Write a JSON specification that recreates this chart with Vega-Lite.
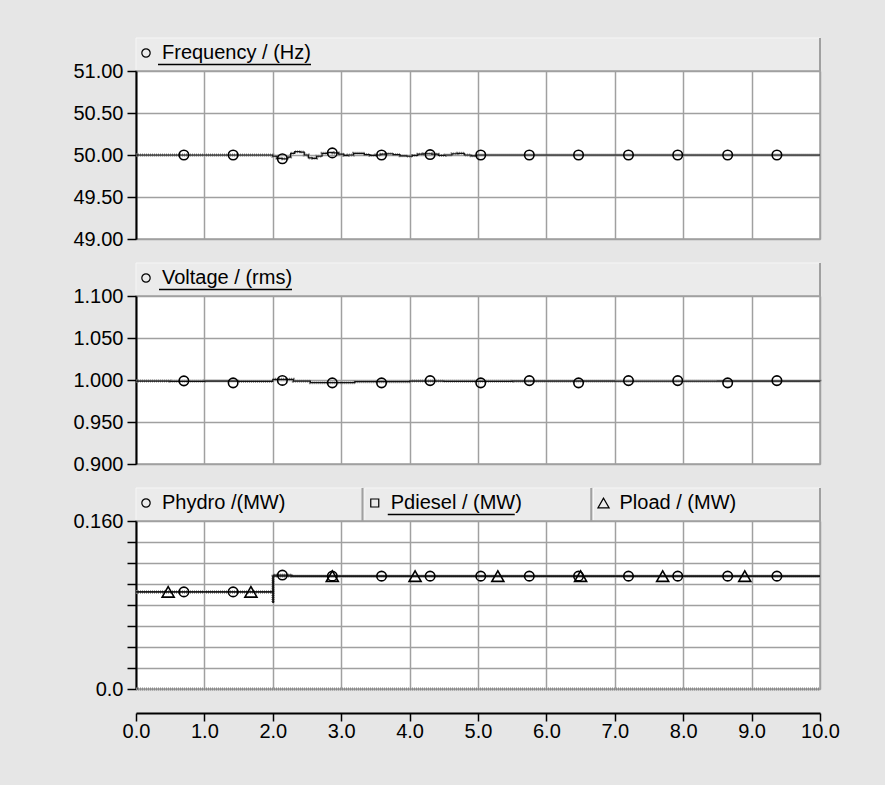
{
  "$schema": "https://vega.github.io/schema/vega-lite/v6.json",
  "background": "#e6e6e6",
  "padding": {"left": 72, "top": 37, "right": 64, "bottom": 45},
  "spacing": 12,
  "resolve": {"scale": {"x": "independent", "y": "independent", "shape": "independent", "size": "independent"}},
  "config": {
    "font": "Liberation Sans",
    "view": {"stroke": "#a0a0a0", "strokeWidth": 1.5, "fill": "white"},
    "axis": {
      "labelFont": "Liberation Sans", "labelFontSize": 20, "labelColor": "black",
      "domainColor": "black", "domainWidth": 2, "tickColor": "black", "tickWidth": 1.5,
      "tickSize": 9, "labelPadding": 4, "gridColor": "#a0a0a0", "gridWidth": 1.5,
      "gridOpacity": 1, "title": null, "labelFlush": false
    }
  },
  "datasets": {
    "freq": [
      {"t": 0, "v": 50.0}, {"t": 1.98, "v": 50.0}, {"t": 2.0, "v": 49.985}, {"t": 2.06, "v": 49.96},
      {"t": 2.14, "v": 49.955}, {"t": 2.22, "v": 49.975}, {"t": 2.26, "v": 50.02}, {"t": 2.32, "v": 50.04},
      {"t": 2.4, "v": 50.035}, {"t": 2.46, "v": 50.0}, {"t": 2.52, "v": 49.965}, {"t": 2.58, "v": 49.96},
      {"t": 2.64, "v": 49.985}, {"t": 2.72, "v": 50.02}, {"t": 2.8, "v": 50.03}, {"t": 2.88, "v": 50.025},
      {"t": 2.96, "v": 50.01}, {"t": 3.04, "v": 49.995}, {"t": 3.1, "v": 50.0}, {"t": 3.18, "v": 50.02},
      {"t": 3.26, "v": 50.02}, {"t": 3.34, "v": 50.005}, {"t": 3.42, "v": 49.995}, {"t": 3.5, "v": 50.0},
      {"t": 3.58, "v": 50.01}, {"t": 3.66, "v": 50.015}, {"t": 3.76, "v": 50.005}, {"t": 3.86, "v": 49.99},
      {"t": 3.96, "v": 49.985}, {"t": 4.04, "v": 49.995}, {"t": 4.12, "v": 50.01}, {"t": 4.2, "v": 50.015},
      {"t": 4.32, "v": 50.01}, {"t": 4.42, "v": 49.995}, {"t": 4.52, "v": 50.0}, {"t": 4.62, "v": 50.015},
      {"t": 4.7, "v": 50.02}, {"t": 4.8, "v": 50.0}, {"t": 4.9, "v": 49.99}, {"t": 4.98, "v": 50.0},
      {"t": 10, "v": 50.0}
    ],
    "freqMarks": [
      {"t": 0.7, "v": 50.0}, {"t": 1.42, "v": 50.0}, {"t": 2.14, "v": 49.955}, {"t": 2.87, "v": 50.025},
      {"t": 3.59, "v": 50.0}, {"t": 4.3, "v": 50.005}, {"t": 5.04, "v": 50.0}, {"t": 5.75, "v": 50.0},
      {"t": 6.47, "v": 50.0}, {"t": 7.2, "v": 50.0}, {"t": 7.92, "v": 50.0}, {"t": 8.65, "v": 50.0},
      {"t": 9.37, "v": 50.0}
    ],
    "volt": [
      {"t": 0, "v": 0.9987}, {"t": 0.5, "v": 0.9984}, {"t": 1.0, "v": 0.9987}, {"t": 1.5, "v": 0.9983},
      {"t": 2.0, "v": 1.0008}, {"t": 2.3, "v": 0.9986}, {"t": 2.55, "v": 0.9968}, {"t": 3.2, "v": 0.998},
      {"t": 4.0, "v": 0.9987}, {"t": 4.5, "v": 0.9984}, {"t": 5.5, "v": 0.9986}, {"t": 7.0, "v": 0.9985},
      {"t": 8.5, "v": 0.9986}, {"t": 10, "v": 0.9985}
    ],
    "voltMarks": [
      {"t": 0.7, "v": 0.999}, {"t": 1.42, "v": 0.9966}, {"t": 2.14, "v": 0.9995}, {"t": 2.87, "v": 0.9966},
      {"t": 3.59, "v": 0.9966}, {"t": 4.3, "v": 0.9993}, {"t": 5.04, "v": 0.9966}, {"t": 5.75, "v": 0.9993},
      {"t": 6.47, "v": 0.9966}, {"t": 7.2, "v": 0.9993}, {"t": 7.92, "v": 0.9993}, {"t": 8.65, "v": 0.9966},
      {"t": 9.37, "v": 0.9993}
    ],
    "power": [
      {"t": 0, "series": "Phydro", "v": 0.0925}, {"t": 2.0, "series": "Phydro", "v": 0.0825},
      {"t": 2.01, "series": "Phydro", "v": 0.1085}, {"t": 2.28, "series": "Phydro", "v": 0.1075},
      {"t": 10, "series": "Phydro", "v": 0.1075},
      {"t": 0, "series": "Pload", "v": 0.0925}, {"t": 2.0, "series": "Pload", "v": 0.1075},
      {"t": 10, "series": "Pload", "v": 0.1075},
      {"t": 0, "series": "Pdiesel", "v": 0.0}, {"t": 10, "series": "Pdiesel", "v": 0.0}
    ],
    "powerMarks": [
      {"t": 0.7, "series": "Phydro", "v": 0.0925}, {"t": 1.42, "series": "Phydro", "v": 0.0925},
      {"t": 2.14, "series": "Phydro", "v": 0.1085}, {"t": 2.87, "series": "Phydro", "v": 0.1075},
      {"t": 3.59, "series": "Phydro", "v": 0.1075}, {"t": 4.3, "series": "Phydro", "v": 0.1075},
      {"t": 5.04, "series": "Phydro", "v": 0.1075}, {"t": 5.75, "series": "Phydro", "v": 0.1075},
      {"t": 6.47, "series": "Phydro", "v": 0.1075}, {"t": 7.2, "series": "Phydro", "v": 0.1075},
      {"t": 7.92, "series": "Phydro", "v": 0.1075}, {"t": 8.65, "series": "Phydro", "v": 0.1075},
      {"t": 9.37, "series": "Phydro", "v": 0.1075},
      {"t": 0.47, "series": "Pload", "v": 0.0925}, {"t": 1.68, "series": "Pload", "v": 0.0925},
      {"t": 2.87, "series": "Pload", "v": 0.1075}, {"t": 4.08, "series": "Pload", "v": 0.1075},
      {"t": 5.29, "series": "Pload", "v": 0.1075}, {"t": 6.5, "series": "Pload", "v": 0.1075},
      {"t": 7.7, "series": "Pload", "v": 0.1075}, {"t": 8.9, "series": "Pload", "v": 0.1075}
    ]
  },
  "vconcat": [
    {
      "spacing": 0, "bounds": "flush",
      "resolve": {"scale": {"x": "independent", "y": "independent"}},
      "vconcat": [
        {
          "width": 684, "height": 33,
          "view": {"stroke": null, "fill": null},
          "data": {"values": [{"series": "Frequency", "label": "Frequency / (Hz)"}]},
          "layer": [
            {"mark": {"type": "rect", "fill": "#ebebeb", "stroke": "#f6f6f6", "strokeWidth": 1},
             "encoding": {"x": {"field": "series", "type": "nominal", "axis": null, "scale": {"paddingInner": 0, "paddingOuter": 0}}}},
            {"mark": {"type": "rule", "color": "#a0a0a0", "strokeWidth": 2},
             "encoding": {"x": {"field": "series", "type": "nominal", "bandPosition": 1, "axis": null}}},
            {"mark": {"type": "point", "shape": "circle", "size": 70, "filled": false, "stroke": "black", "strokeWidth": 1.2, "xOffset": 10, "yOffset": -1.5, "opacity": 1},
             "encoding": {"x": {"field": "series", "type": "nominal", "bandPosition": 0, "axis": null}}},
            {"mark": {"type": "text", "align": "left", "baseline": "middle", "fontSize": 20, "font": "Liberation Sans", "color": "black", "dx": 26, "dy": -1.5},
             "encoding": {"x": {"field": "series", "type": "nominal", "bandPosition": 0, "axis": null}, "text": {"field": "label"}}},
            {"mark": {"type": "rule", "color": "black", "strokeWidth": 1.5, "xOffset": 22, "x2Offset": 175, "yOffset": 10},
             "encoding": {"x": {"field": "series", "type": "nominal", "bandPosition": 0, "axis": null}, "x2": {"field": "series", "bandPosition": 0}}}
          ]
        },
        {
          "width": 684, "height": 168,
          "encoding": {
            "x": {"field": "t", "type": "quantitative", "scale": {"domain": [0, 10], "nice": false},
                  "axis": {"values": [0, 1, 2, 3, 4, 5, 6, 7, 8, 9, 10], "labels": false, "ticks": false, "domain": false, "grid": true}},
            "y": {"field": "v", "type": "quantitative", "scale": {"domain": [49, 51], "nice": false, "zero": false},
                  "axis": {"values": [49, 49.5, 50, 50.5, 51], "format": ".2f"}}
          },
          "layer": [
            {"data": {"name": "freq"}, "mark": {"type": "line", "interpolate": "step-after", "color": "#8a8a8a", "strokeWidth": 3, "strokeDash": [1, 1]}},
            {"data": {"name": "freq"}, "mark": {"type": "line", "interpolate": "step-after", "color": "#111111", "strokeWidth": 1.2}},
            {"data": {"name": "freqMarks"}, "mark": {"type": "point", "shape": "circle", "filled": false, "size": 90, "stroke": "black", "strokeWidth": 1.6, "opacity": 1}}
          ]
        }
      ]
    },
    {
      "spacing": 0, "bounds": "flush",
      "resolve": {"scale": {"x": "independent", "y": "independent"}},
      "vconcat": [
        {
          "width": 684, "height": 33,
          "view": {"stroke": null, "fill": null},
          "data": {"values": [{"series": "Voltage", "label": "Voltage / (rms)"}]},
          "layer": [
            {"mark": {"type": "rect", "fill": "#ebebeb", "stroke": "#f6f6f6", "strokeWidth": 1},
             "encoding": {"x": {"field": "series", "type": "nominal", "axis": null, "scale": {"paddingInner": 0, "paddingOuter": 0}}}},
            {"mark": {"type": "rule", "color": "#a0a0a0", "strokeWidth": 2},
             "encoding": {"x": {"field": "series", "type": "nominal", "bandPosition": 1, "axis": null}}},
            {"mark": {"type": "point", "shape": "circle", "size": 70, "filled": false, "stroke": "black", "strokeWidth": 1.2, "xOffset": 10, "yOffset": -1.5, "opacity": 1},
             "encoding": {"x": {"field": "series", "type": "nominal", "bandPosition": 0, "axis": null}}},
            {"mark": {"type": "text", "align": "left", "baseline": "middle", "fontSize": 20, "font": "Liberation Sans", "color": "black", "dx": 26, "dy": -1.5},
             "encoding": {"x": {"field": "series", "type": "nominal", "bandPosition": 0, "axis": null}, "text": {"field": "label"}}},
            {"mark": {"type": "rule", "color": "black", "strokeWidth": 1.5, "xOffset": 23, "x2Offset": 156, "yOffset": 10},
             "encoding": {"x": {"field": "series", "type": "nominal", "bandPosition": 0, "axis": null}, "x2": {"field": "series", "bandPosition": 0}}}
          ]
        },
        {
          "width": 684, "height": 168,
          "encoding": {
            "x": {"field": "t", "type": "quantitative", "scale": {"domain": [0, 10], "nice": false},
                  "axis": {"values": [0, 1, 2, 3, 4, 5, 6, 7, 8, 9, 10], "labels": false, "ticks": false, "domain": false, "grid": true}},
            "y": {"field": "v", "type": "quantitative", "scale": {"domain": [0.9, 1.1], "nice": false, "zero": false},
                  "axis": {"values": [0.9, 0.95, 1.0, 1.05, 1.1], "format": ".3f"}}
          },
          "layer": [
            {"data": {"name": "volt"}, "mark": {"type": "line", "interpolate": "step-after", "color": "#8a8a8a", "strokeWidth": 3, "strokeDash": [1, 1]}},
            {"data": {"name": "volt"}, "mark": {"type": "line", "interpolate": "step-after", "color": "#111111", "strokeWidth": 1.2}},
            {"data": {"name": "voltMarks"}, "mark": {"type": "point", "shape": "circle", "filled": false, "size": 90, "stroke": "black", "strokeWidth": 1.6, "opacity": 1}}
          ]
        }
      ]
    },
    {
      "spacing": 0, "bounds": "flush",
      "resolve": {"scale": {"x": "independent", "y": "independent", "shape": "independent", "size": "independent"}},
      "vconcat": [
        {
          "width": 684, "height": 33,
          "view": {"stroke": null, "fill": null},
          "data": {"values": [
            {"series": "Phydro", "label": "Phydro /(MW)"},
            {"series": "Pdiesel", "label": "Pdiesel / (MW)"},
            {"series": "Pload", "label": "Pload / (MW)"}
          ]},
          "layer": [
            {"mark": {"type": "rect", "fill": "#ebebeb", "stroke": "#f6f6f6", "strokeWidth": 1},
             "encoding": {"x": {"field": "series", "type": "nominal", "sort": null, "axis": null, "scale": {"paddingInner": 0.01, "paddingOuter": 0}}}},
            {"mark": {"type": "rule", "color": "#a0a0a0", "strokeWidth": 2},
             "encoding": {"x": {"field": "series", "type": "nominal", "sort": null, "bandPosition": 1, "axis": null}}},
            {"mark": {"type": "point", "filled": false, "stroke": "black", "strokeWidth": 1.2, "xOffset": 10, "yOffset": -1.5, "opacity": 1},
             "encoding": {"x": {"field": "series", "type": "nominal", "sort": null, "bandPosition": 0, "axis": null},
                          "shape": {"field": "series", "type": "nominal", "legend": null, "scale": {"domain": ["Phydro", "Pdiesel", "Pload"], "range": ["circle", "square", "triangle-up"]}},
                          "size": {"field": "series", "type": "nominal", "legend": null, "scale": {"type": "ordinal", "domain": ["Phydro", "Pdiesel", "Pload"], "range": [70, 64, 125]}}}},
            {"mark": {"type": "text", "align": "left", "baseline": "middle", "fontSize": 20, "font": "Liberation Sans", "color": "black", "dx": 26, "dy": -1.5},
             "encoding": {"x": {"field": "series", "type": "nominal", "sort": null, "bandPosition": 0, "axis": null}, "text": {"field": "label"}}},
            {"transform": [{"filter": "datum.series == 'Pdiesel'"}],
             "mark": {"type": "rule", "color": "black", "strokeWidth": 1.5, "xOffset": 23, "x2Offset": 150, "yOffset": 10},
             "encoding": {"x": {"field": "series", "type": "nominal", "sort": null, "bandPosition": 0, "axis": null}, "x2": {"field": "series", "bandPosition": 0}}}
          ]
        },
        {
          "width": 684, "height": 168,
          "encoding": {
            "x": {"field": "t", "type": "quantitative", "scale": {"domain": [0, 10], "nice": false},
                  "axis": {"values": [0, 1, 2, 3, 4, 5, 6, 7, 8, 9, 10], "format": ".1f", "offset": 24, "grid": true, "tickSize": 8, "labelPadding": 0}},
            "y": {"field": "v", "type": "quantitative", "scale": {"domain": [0, 0.16], "nice": false},
                  "axis": {"values": [0, 0.02, 0.04, 0.06, 0.08, 0.1, 0.12, 0.14, 0.16],
                           "labelExpr": "datum.value == 0 ? '0.0' : (datum.value > 0.159 ? '0.160' : '')"}}
          },
          "layer": [
            {"data": {"name": "power"}, "mark": {"type": "line", "interpolate": "step-after", "color": "#8a8a8a", "strokeWidth": 3, "strokeDash": [1, 1]},
             "encoding": {"detail": {"field": "series"}}},
            {"data": {"name": "power"}, "transform": [{"filter": "datum.series != 'Pdiesel'"}],
             "mark": {"type": "line", "interpolate": "step-after", "color": "#111111", "strokeWidth": 1.2},
             "encoding": {"detail": {"field": "series"}}},
            {"data": {"name": "powerMarks"}, "mark": {"type": "point", "filled": false, "stroke": "black", "strokeWidth": 1.6, "opacity": 1},
             "encoding": {"shape": {"field": "series", "type": "nominal", "legend": null, "scale": {"domain": ["Phydro", "Pdiesel", "Pload"], "range": ["circle", "square", "triangle-up"]}},
                          "size": {"field": "series", "type": "nominal", "legend": null, "scale": {"type": "ordinal", "domain": ["Phydro", "Pdiesel", "Pload"], "range": [90, 90, 145]}}}}
          ]
        }
      ]
    }
  ]
}
